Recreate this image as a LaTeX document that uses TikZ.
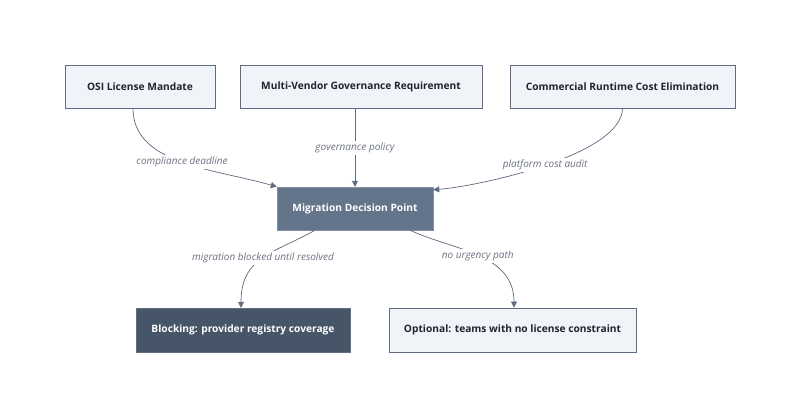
\documentclass[tikz,border=0pt]{standalone}
\usepackage{fontspec}
\setmainfont{Open Sans}
\usepackage{tikz}
\usetikzlibrary{arrows.meta,positioning}
\definecolor{BoxFill}{HTML}{F0F3F8}
\definecolor{BoxLine}{HTML}{5E6B80}
\definecolor{HubFill}{HTML}{64748B}
\definecolor{BlockFill}{HTML}{475569}
\definecolor{Ink}{HTML}{1E2530}
\definecolor{EdgeInk}{HTML}{5F6B80}
\definecolor{LabelInk}{HTML}{6B7280}

\begin{document}
\begin{tikzpicture}[
  x=1pt,y=-1pt,
  font=\fontsize{10.2}{12}\selectfont,
  flow/.style={-{Triangle[length=6pt,width=6pt]},draw=EdgeInk,line width=0.7pt},
  lbl/.style={fill=white,text=LabelInk,font=\fontsize{10}{12}\selectfont\itshape,inner sep=2pt},
  src/.style={draw=BoxLine,fill=BoxFill,line width=0.8pt,text=Ink,
    font=\fontsize{10.2}{12}\selectfont\bfseries,minimum height=43pt,inner sep=0pt},
  hub/.style={fill=HubFill,text=white,draw=HubFill!80!white,
    font=\fontsize{10.2}{12}\selectfont\bfseries,minimum height=43pt,inner sep=0pt},
  block/.style={fill=BlockFill,text=white,draw=BlockFill!85!white,
    font=\fontsize{10.2}{12}\selectfont\bfseries,minimum height=44pt,inner sep=0pt}
]
  \useasboundingbox[fill=white] (0,0) rectangle (800,417);

  \node[src,minimum width=150pt] (osi) at (140,86.5) {OSI License Mandate};
  \node[src,minimum width=242pt] (vendor) at (361,86.5)
    {Multi-Vendor Governance Requirement};
  \node[src,minimum width=225pt] (runtime) at (622.5,86.5)
    {Commercial Runtime Cost Elimination};

  \node[hub,minimum width=156pt] (decide) at (355,208.5)
    {Migration Decision Point};

  \node[block,minimum width=214pt] (blocking) at (243,330)
    {Blocking: provider registry coverage};
  \node[src,minimum width=247pt,minimum height=44pt] (optional) at (512.5,330)
    {Optional: teams with no license constraint};

  \draw[flow] ([xshift=-7pt]osi.south) .. controls (133,165) and (216,169) ..
    node[lbl,pos=0.5] {compliance deadline} (decide.north west);
  \draw[flow] ([xshift=-6pt]vendor.south) --
    node[lbl] {governance policy} ([xshift=0pt]decide.north);
  \draw[flow] (runtime.south) .. controls (622,155) and (480,186) ..
    node[lbl,pos=0.5] {platform cost audit} ([yshift=-3pt]decide.north east);

  \draw[flow] ([xshift=-40pt]decide.south) .. controls (275,253) and (241,256) ..
    node[lbl,pos=0.5] {migration blocked until resolved}
    ([xshift=-2pt]blocking.north);
  \draw[flow] ([xshift=55pt]decide.south) .. controls (452,250) and (514,253) ..
    node[lbl,pos=0.5] {no urgency path} ([xshift=1.5pt]optional.north);
\end{tikzpicture}
\end{document}
